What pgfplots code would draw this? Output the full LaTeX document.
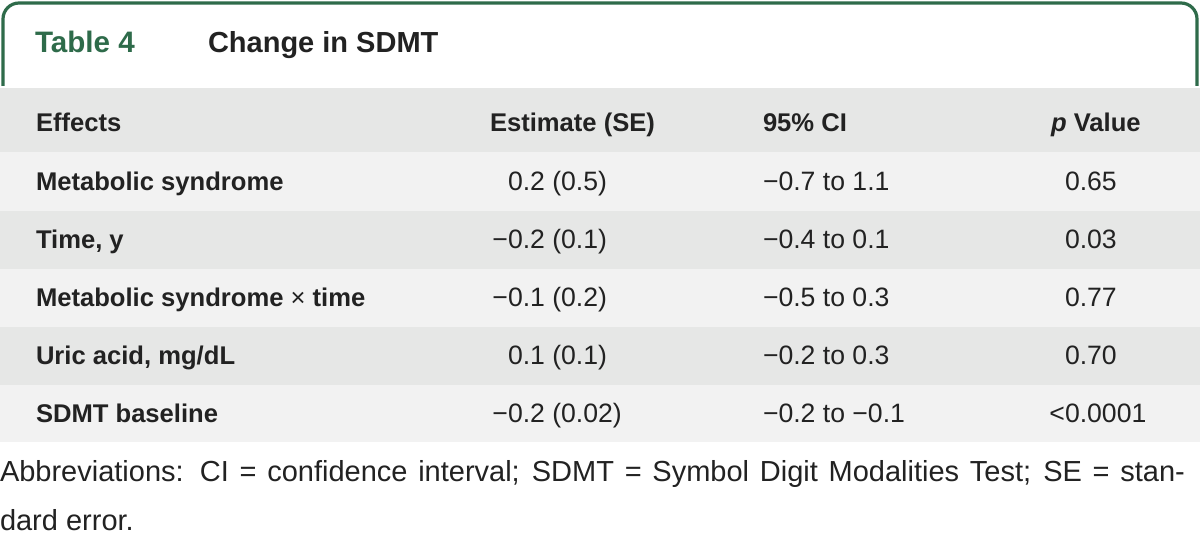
\documentclass[border=0pt]{standalone}
\usepackage{pgfplots}
\pgfplotsset{compat=1.18}
\usepackage{fontspec}
\setmainfont{Liberation Sans}
\definecolor{tgreen}{HTML}{2E6B4A}
\definecolor{hdr}{HTML}{E6E7E6}
\definecolor{rowl}{HTML}{F2F2F2}
\definecolor{txt}{HTML}{222222}
\newcommand{\mn}{\textmd{−}}
\begin{document}
\begin{tikzpicture}[every node/.style={text=txt, inner sep=0pt, outer sep=0pt}]
\begin{axis}[scale only axis, width=600bp, height=267bp,
  xmin=0, xmax=1200, ymin=0, ymax=534, y dir=reverse,
  axis lines=none, ticks=none, clip=false]
% page
\addplot[fill=white, draw=none] coordinates {(0,0) (1200,0) (1200,534) (0,534)} -- cycle;
% bands
\addplot[fill=hdr, draw=none] coordinates {(0,88) (1200,88) (1200,152) (0,152)} -- cycle;
\addplot[fill=rowl, draw=none] coordinates {(0,152) (1200,152) (1200,211) (0,211)} -- cycle;
\addplot[fill=hdr, draw=none] coordinates {(0,211) (1200,211) (1200,269) (0,269)} -- cycle;
\addplot[fill=rowl, draw=none] coordinates {(0,269) (1200,269) (1200,327) (0,327)} -- cycle;
\addplot[fill=hdr, draw=none] coordinates {(0,327) (1200,327) (1200,385) (0,385)} -- cycle;
\addplot[fill=rowl, draw=none] coordinates {(0,385) (1200,385) (1200,442) (0,442)} -- cycle;
% green frame
\addplot[draw=tgreen, line width=1.6bp, rounded corners=8bp] coordinates {(3,86) (3,3) (1197,3) (1197,86)};
% title
\node[anchor=base west, inner sep=0pt, text=tgreen, font=\fontsize{14.8bp}{17bp}\selectfont\bfseries] at (axis cs:35,53) {Table 4};
\node[anchor=base west, inner sep=0pt, font=\fontsize{14.5bp}{17bp}\selectfont\bfseries] at (axis cs:208,53) {Change in SDMT};
% header and row labels
\begin{scope}[every node/.append style={inner sep=0pt, font=\fontsize{12.8bp}{15bp}\selectfont\bfseries}]
\node[anchor=base west] at (axis cs:36,131) {Effects};
\node[anchor=base west] at (axis cs:490,131) {Estimate (SE)};
\node[anchor=base west] at (axis cs:763,131) {95\% CI};
\node[anchor=base west] at (axis cs:1051,131) {\textit{p} Value};
\node[anchor=base west] at (axis cs:36,190) {Metabolic syndrome};
\node[anchor=base west] at (axis cs:36,248.5) {Time, y};
\node[anchor=base west] at (axis cs:36,306.5) {Metabolic syndrome {\mdseries ×} time};
\node[anchor=base west] at (axis cs:36,364.5) {Uric acid, mg/dL};
\node[anchor=base west] at (axis cs:36,422) {SDMT baseline};
\end{scope}
\begin{scope}[every node/.append style={inner sep=0pt, font=\fontsize{13.3bp}{15bp}\selectfont}]
\node[anchor=base west] at (axis cs:508,190) {0.2 (0.5)};
\node[anchor=base west] at (axis cs:508,248.5) {\llap{\mn}0.2 (0.1)};
\node[anchor=base west] at (axis cs:508,306.5) {\llap{\mn}0.1 (0.2)};
\node[anchor=base west] at (axis cs:508,364.5) {0.1 (0.1)};
\node[anchor=base west] at (axis cs:508,422) {\llap{\mn}0.2 (0.02)};
\node[anchor=base west] at (axis cs:763,190) {\mn0.7 to 1.1};
\node[anchor=base west] at (axis cs:763,248.5) {\mn0.4 to 0.1};
\node[anchor=base west] at (axis cs:763,306.5) {\mn0.5 to 0.3};
\node[anchor=base west] at (axis cs:763,364.5) {\mn0.2 to 0.3};
\node[anchor=base west] at (axis cs:763,422) {\mn0.2 to \mn0.1};
\node[anchor=base west] at (axis cs:1065,190) {0.65};
\node[anchor=base west] at (axis cs:1065,248.5) {0.03};
\node[anchor=base west] at (axis cs:1065,306.5) {0.77};
\node[anchor=base west] at (axis cs:1065,364.5) {0.70};
\node[anchor=base west] at (axis cs:1065,422) {\llap{<}0.0001};
\end{scope}
% footnote
\begin{scope}[every node/.append style={inner sep=0pt, font=\fontsize{14.5bp}{16bp}\selectfont}]
\node[anchor=base west] at (axis cs:0,481) {\makebox[592.5bp][s]{Abbreviations: CI = confidence interval; SDMT = Symbol Digit Modalities Test; SE = stan-}};
\node[anchor=base west] at (axis cs:0,530) {dard error.};
\end{scope}
\end{axis}
\pgfresetboundingbox
\path (current axis.south west) rectangle (current axis.north east);
\end{tikzpicture}
\end{document}
